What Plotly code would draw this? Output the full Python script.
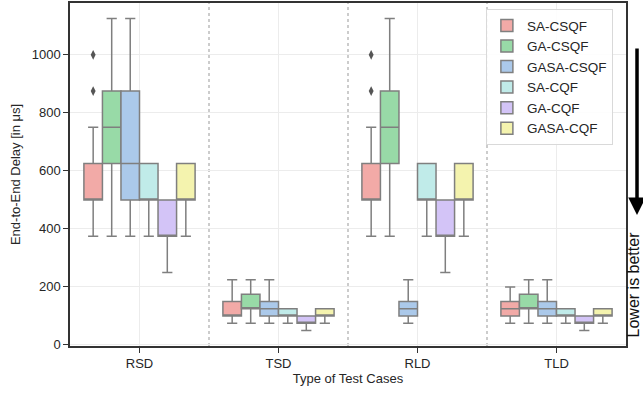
import plotly.graph_objects as go

# categories and methods
cases = ["RSD", "TSD", "RLD", "TLD"]
methods = ["SA-CSQF", "GA-CSQF", "GASA-CSQF", "SA-CQF", "GA-CQF", "GASA-CQF"]
colors = ["#f2aaa7", "#98daa7", "#abc9ea", "#c0ebe9", "#d3c4f7", "#f4f3ae"]

# box statistics per method, one value per test case (RSD, TSD, RLD, TLD)
q1 = {
    "SA-CSQF":   [500, 100, 500, 100],
    "GA-CSQF":   [625, 125, 625, 125],
    "GASA-CSQF": [500, 100, 100, 100],
    "SA-CQF":    [500, 100, 500, 100],
    "GA-CQF":    [375, 75, 375, 75],
    "GASA-CQF":  [500, 100, 500, 100],
}
median = {
    "SA-CSQF":   [500, 100, 500, 125],
    "GA-CSQF":   [750, 125, 750, 125],
    "GASA-CSQF": [625, 125, 125, 125],
    "SA-CQF":    [500, 100, 500, 100],
    "GA-CQF":    [375, 75, 375, 75],
    "GASA-CQF":  [500, 100, 500, 100],
}
q3 = {
    "SA-CSQF":   [625, 150, 625, 150],
    "GA-CSQF":   [875, 175, 875, 175],
    "GASA-CSQF": [875, 150, 150, 150],
    "SA-CQF":    [625, 125, 625, 125],
    "GA-CQF":    [500, 100, 500, 100],
    "GASA-CQF":  [625, 125, 625, 125],
}
lower = {
    "SA-CSQF":   [375, 75, 375, 75],
    "GA-CSQF":   [375, 75, 375, 75],
    "GASA-CSQF": [375, 75, 75, 75],
    "SA-CQF":    [375, 75, 375, 75],
    "GA-CQF":    [250, 50, 250, 50],
    "GASA-CQF":  [375, 75, 375, 75],
}
upper = {
    "SA-CSQF":   [750, 225, 750, 200],
    "GA-CSQF":   [1125, 225, 1125, 225],
    "GASA-CSQF": [1125, 225, 225, 225],
    "SA-CQF":    [625, 125, 625, 125],
    "GA-CQF":    [500, 100, 500, 100],
    "GASA-CQF":  [625, 125, 625, 125],
}
# outliers (SA-CSQF only)
outlier_case = [0, 0, 2, 2]
outlier_vals = [875, 1000, 875, 1000]

xpos = list(range(len(cases)))
fig = go.Figure()

for i, m in enumerate(methods):
    fig.add_trace(go.Box(
        x=xpos, q1=q1[m], median=median[m], q3=q3[m],
        lowerfence=lower[m], upperfence=upper[m],
        name=m, fillcolor=colors[i],
        line=dict(color="#7f7f7f", width=1.5),
        whiskerwidth=0.55, boxpoints=False,
    ))

# outlier diamonds, positioned in the SA-CSQF slot of each group
n = len(methods)
slot = 0.8 / n
off = -0.4 + slot * 0.5
fig.add_trace(go.Scatter(
    x=[c + off for c in outlier_case], y=outlier_vals, mode="markers",
    marker=dict(symbol="diamond-tall", size=7, color="#555555"),
    showlegend=False, hoverinfo="skip",
))

# dotted separators between test cases
for k in range(len(cases) - 1):
    fig.add_shape(type="line", x0=k + 0.5, x1=k + 0.5, y0=0, y1=1, yref="paper",
                  line=dict(color="#999999", width=1, dash="dot"), layer="below")

# "Lower is better" arrow
fig.add_annotation(x=1.0198, y=0.382, xref="paper", yref="paper",
                   ax=0, ay=-175, axref="pixel", ayref="pixel",
                   showarrow=True, arrowhead=2, arrowsize=1.0, arrowwidth=3.5,
                   arrowcolor="black", text=" ")
fig.add_annotation(x=1.0135, y=0.178, xref="paper", yref="paper",
                   xanchor="center", yanchor="middle",
                   text="Lower is better", textangle=-90, showarrow=False,
                   font=dict(size=16, color="#111111"))

fig.update_layout(
    width=643, height=394,
    margin=dict(l=70, r=17, t=3, b=48, autoexpand=False),
    paper_bgcolor="white", plot_bgcolor="white",
    boxmode="group", boxgap=0.2, boxgroupgap=0,
    font=dict(family="Liberation Sans, Arial, sans-serif", size=12, color="#262626"),
    legend=dict(x=0.748, y=0.982, xanchor="left", yanchor="top",
                bgcolor="rgba(255,255,255,0.9)", bordercolor="#d9d9d9", borderwidth=1,
                font=dict(size=13.5)),
    showlegend=True,
)
fig.update_xaxes(
    range=[-0.5, 3.5], tickvals=xpos, ticktext=cases, automargin=False,
    showline=True, mirror=True, linecolor="#333333", linewidth=1.5,
    ticks="outside", ticklen=5, tickcolor="#333333",
    showgrid=True, gridcolor="#ececec", gridwidth=1, zeroline=False,
    tickfont=dict(size=13),
    title=dict(text="Type of Test Cases", font=dict(size=13), standoff=4),
)
fig.update_yaxes(
    range=[-3.75, 1178.75], tickvals=[0, 200, 400, 600, 800, 1000], automargin=False,
    showline=True, mirror=True, linecolor="#333333", linewidth=1.5,
    ticks="outside", ticklen=5, tickcolor="#333333",
    showgrid=True, gridcolor="#ececec", gridwidth=1, zeroline=False,
    tickfont=dict(size=13),
    title=dict(text="End-to-End Delay [in μs]", font=dict(size=13), standoff=8),
)

fig.write_html("out.html", config={"displayModeBar": False},
               post_script="document.body.style.margin='0';")
